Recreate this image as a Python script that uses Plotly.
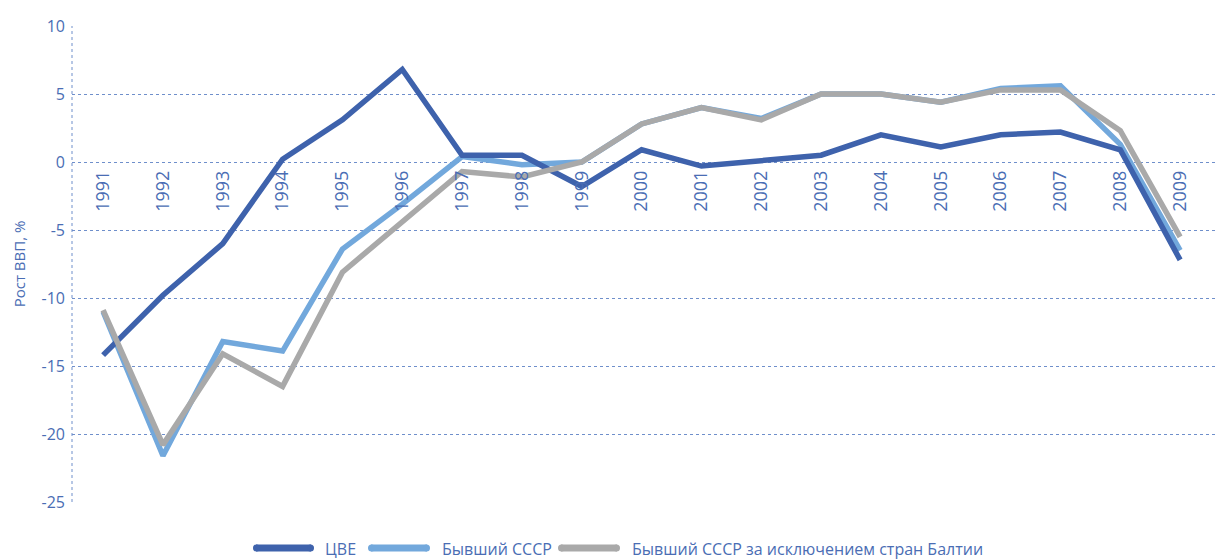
import plotly.graph_objects as go

years = [str(y) for y in range(1991, 2010)]
cve = [-14.2, -9.8, -6.0, 0.2, 3.1, 6.8, 0.5, 0.5, -1.8, 0.9, -0.3, 0.1, 0.5, 2.0, 1.1, 2.0, 2.2, 0.9, -7.2]
ussr = [-11.0, -21.6, -13.2, -13.9, -6.4, -3.1, 0.4, -0.2, 0.0, 2.8, 4.0, 3.2, 5.0, 5.0, 4.4, 5.4, 5.6, 1.3, -6.5]
ussr_nb = [-10.9, -20.8, -14.1, -16.5, -8.1, -4.4, -0.7, -1.1, 0.0, 2.8, 4.0, 3.1, 5.0, 5.0, 4.4, 5.3, 5.3, 2.3, -5.5]
y_ticks = [10, 5, 0, -5, -10, -15, -20, -25]
y_ticktext = ["10", "5", "0", "-5", "-10", "-15", "-20", "-25"]

names = ["ЦВЕ", "Бывший СССР", "Бывший СССР за исключением стран Балтии"]
colors = ["#3E62AC", "#72A8DC", "#A9A9A9"]
text_color = "#4A6DB4"
grid_color = "#6F8FCB"

fig = go.Figure()
# drawing order: light blue at bottom, dark blue, gray on top
fig.add_trace(go.Scatter(x=years, y=ussr, mode="lines", name=names[1], showlegend=False,
                         line=dict(color=colors[1], width=5.5)))
fig.add_trace(go.Scatter(x=years, y=cve, mode="lines", name=names[0], showlegend=False,
                         line=dict(color=colors[0], width=5.5)))
fig.add_trace(go.Scatter(x=years, y=ussr_nb, mode="lines", name=names[2], showlegend=False,
                         line=dict(color=colors[2], width=5.5)))

# page body has an 8px margin -> figure is 8px smaller than window
W, H = 1215, 551
ml, mr, mt, mb = 64, 1, 18, 57
fig.update_layout(
    width=W, height=H,
    margin=dict(l=ml, r=mr, t=mt, b=mb),
    plot_bgcolor="white", paper_bgcolor="white",
    font=dict(family="Open Sans", color=text_color, size=15),
    showlegend=False,
    xaxis=dict(type="category", range=[-0.52, 18.7], anchor="free", position=25/35,
               tickangle=-90, showgrid=False, showline=False, ticks="", automargin=False,
               ticklabelstandoff=4,
               tickfont=dict(size=18, color=text_color)),
    yaxis=dict(range=[-25, 10], tickvals=y_ticks, ticktext=y_ticktext,
               showgrid=True, gridcolor=grid_color,
               griddash="dot", gridwidth=1, zeroline=False, showline=False, automargin=False,
               ticklabelstandoff=6,
               tickfont=dict(size=16, color=text_color),
               title=dict(text="Рост ВВП, %", font=dict(size=15, color=text_color), standoff=12)),
)
fig.add_shape(type="line", xref="x domain", yref="y domain", x0=0, x1=0, y0=0, y1=1,
              line=dict(color=grid_color, width=1, dash="dot"), layer="below")

# custom legend (window pixel positions converted to paper coords)
pw = W - ml - mr
ph = H - mt - mb
left_px, bottom_px = 72, 502

def px_x(p):
    return (p - left_px) / pw

def px_y(p):
    return (bottom_px - p) / ph

legend_items = [(253, 314, 323), (368, 430, 440), (558, 620, 630)]
for (s0, s1, tx), name, col in zip(legend_items, names, colors):
    fig.add_shape(type="line", xref="paper", yref="paper",
                  x0=px_x(s0 + 3), x1=px_x(s1 - 3), y0=px_y(548), y1=px_y(548),
                  line=dict(color=col, width=7))
    fig.add_shape(type="circle", xref="paper", yref="paper",
                  x0=px_x(s0), x1=px_x(s0 + 7), y0=px_y(551.5), y1=px_y(544.5),
                  line=dict(width=0), fillcolor=col)
    fig.add_shape(type="circle", xref="paper", yref="paper",
                  x0=px_x(s1 - 7), x1=px_x(s1), y0=px_y(551.5), y1=px_y(544.5),
                  line=dict(width=0), fillcolor=col)
    fig.add_annotation(xref="paper", yref="paper", x=px_x(tx), y=px_y(549),
                       xanchor="left", yanchor="middle", text=name, showarrow=False,
                       font=dict(size=16, color=text_color))

fig.write_html("out.html")
